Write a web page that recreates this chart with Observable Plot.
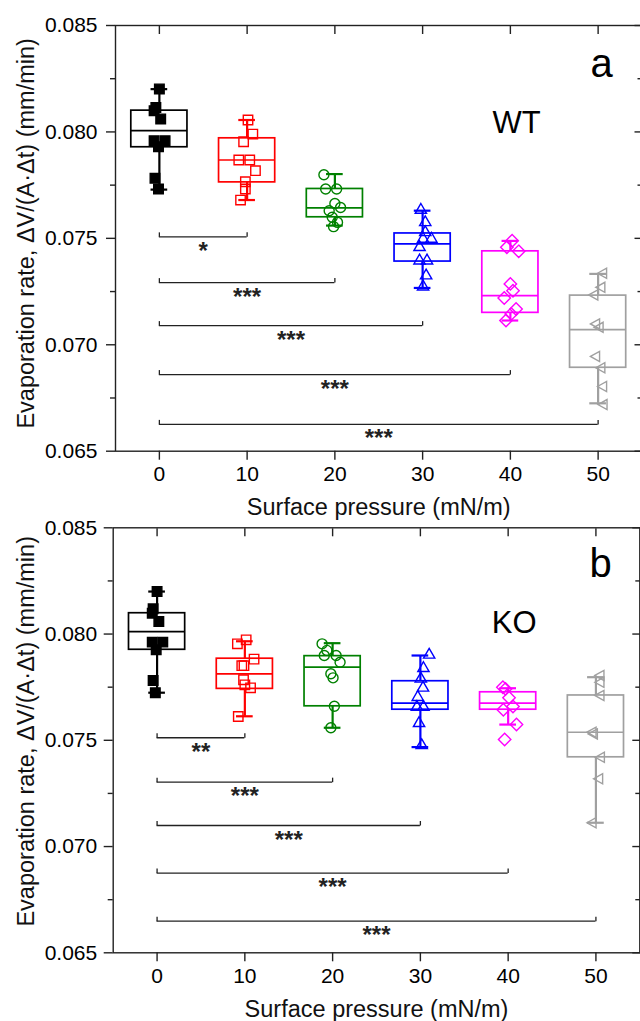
<!DOCTYPE html>
<html><head><meta charset="utf-8">
<script src="https://cdn.jsdelivr.net/npm/d3@7"></script>
<script src="https://cdn.jsdelivr.net/npm/@observablehq/plot@0.6"></script>
<style>
html,body{margin:0;padding:0;background:#fff;}
#chart svg{display:block;overflow:visible;}
</style></head>
<body><div id="chart"></div>
<script>
// ---- categories ----
const pressures = [0, 10, 20, 30, 40, 50];
const colors = ["#000000", "#ff0000", "#008000", "#0000ff", "#ff00ff", "#a0a0a0"];
const yMajor = [0.065, 0.070, 0.075, 0.080, 0.085];
const yMinor = [0.0675, 0.0725, 0.0775, 0.0825];
const xTicks = [0, 10, 20, 30, 40, 50];
const xTitle = "Surface pressure (mN/m)";
const yTitle = "Evaporation rate, \u0394V/(A\u00B7\u0394t) (mm/min)";

// ---- WT box statistics ----
const wtMin    = [0.07729, 0.07680, 0.07560, 0.07267, 0.07114, 0.06725];
const wtQ1     = [0.07928, 0.07763, 0.07599, 0.07391, 0.07150, 0.06892];
const wtMedian = [0.08006, 0.07868, 0.07643, 0.07474, 0.07231, 0.07071];
const wtQ3     = [0.08100, 0.07970, 0.07732, 0.07523, 0.07439, 0.07231];
const wtMax    = [0.08201, 0.08056, 0.07802, 0.07630, 0.07488, 0.07333];

// ---- KO box statistics ----
const koMin    = [0.07724, 0.07613, 0.07559, 0.07468, 0.07574, 0.07112];
const koQ1     = [0.07926, 0.07742, 0.07660, 0.07644, 0.07644, 0.07420];
const koMedian = [0.08011, 0.07813, 0.07844, 0.07675, 0.07675, 0.07538];
const koQ3     = [0.08098, 0.07884, 0.07896, 0.07778, 0.07726, 0.07711];
const koMax    = [0.08200, 0.07966, 0.07957, 0.07899, 0.07745, 0.07797];

// ---- WT individual measurements (per pressure) ----
const wtPoints = [
  [0.08202, 0.08115, 0.08100, 0.08061, 0.07959, 0.07959, 0.07930, 0.07782, 0.07732],
  [0.08056, 0.07990, 0.07954, 0.07868, 0.07868, 0.07818, 0.07766, 0.07732, 0.07680],
  [0.07799, 0.07732, 0.07732, 0.07664, 0.07645, 0.07630, 0.07599, 0.07575, 0.07555],
  [0.07633, 0.07575, 0.07528, 0.07497, 0.07497, 0.07458, 0.07395, 0.07395, 0.07325, 0.07273],
  [0.07489, 0.07458, 0.07439, 0.07286, 0.07254, 0.07220, 0.07168, 0.07145, 0.07114],
  [0.07336, 0.07270, 0.07234, 0.07098, 0.07082, 0.06945, 0.06892, 0.06804, 0.06719]
];
const wtJitter = [
  [0, -0.4, -0.6, 0.15, -0.6, 0.65, -0.1, -0.5, -0.1],
  [0.1, 0.65, -0.4, -0.95, 0.3, 0.95, -0.2, -0.2, -0.75],
  [-1.25, -1.05, 0.2, 0, 0.65, -0.65, -0.3, 0.3, -0.15],
  [-0.2, 0.3, 0.3, 0.05, 1.0, -0.35, -0.35, 0.5, 0.4, 0.05],
  [0.2, -0.4, 0.95, 0, 0.3, -0.7, 0.65, 0.1, -0.5],
  [0.5, 0.3, -0.5, -0.3, 0.1, -0.3, 0.3, 0.5, 0.55]
];

// ---- KO individual measurements (per pressure) ----
const koPoints = [
  [0.08200, 0.08119, 0.08098, 0.08059, 0.07962, 0.07962, 0.07926, 0.07781, 0.07724],
  [0.07954, 0.07973, 0.07882, 0.07851, 0.07851, 0.07785, 0.07761, 0.07747, 0.07612],
  [0.07954, 0.07923, 0.07899, 0.07899, 0.07867, 0.07813, 0.07794, 0.07660, 0.07559],
  [0.07902, 0.07839, 0.07789, 0.07747, 0.07703, 0.07656, 0.07656, 0.07580, 0.07476],
  [0.07750, 0.07742, 0.07700, 0.07659, 0.07644, 0.07574, 0.07504],
  [0.07805, 0.07773, 0.07711, 0.07538, 0.07530, 0.07420, 0.07319, 0.07112]
];
const koJitter = [
  [0, -0.45, -0.55, 0.2, -0.55, 0.65, -0.1, -0.45, -0.2],
  [-0.85, 0.15, 1.05, -0.35, -0.1, -0.15, 0, 0.65, -0.75],
  [-1.2, -0.65, -0.95, 0.4, 0.85, -0.2, 0.05, 0.2, -0.2],
  [1.0, 0.35, 0.05, 0.3, -0.3, -0.4, 0.35, -0.15, 0.15],
  [-0.6, -0.3, 0.1, 0.55, -0.55, 0.95, -0.4],
  [0.45, 0.45, 0.45, -0.45, -0.3, 0.5, 0.3, -0.45]
];

// ---- significance brackets (0 vs each pressure) ----
const bracketTo = [10, 20, 30, 40, 50];
const wtBracketY = [0.07507, 0.07292, 0.07090, 0.06860, 0.06626];
const koBracketY = [0.07512, 0.07303, 0.07099, 0.06875, 0.06649];
const wtStars = ["*", "***", "***", "***", "***"];
const koStars = ["**", "***", "***", "***", "***"];

// ---- styling ----
const FONT = "'Liberation Sans', Arial, Helvetica, sans-serif";
const INK = "#222";
const HALF = 3.2;   // box half-width in x units
const CAP = 0.95;   // whisker cap half-width in x units

const leftTri = {draw(ctx, size) {
  const r = Math.sqrt(size / Math.PI);
  ctx.moveTo(-r * 1.05, 0); ctx.lineTo(r * 0.85, -r * 1.05); ctx.lineTo(r * 0.85, r * 1.05); ctx.closePath();
}};
const tickUp = {draw(ctx) { ctx.moveTo(0, 0); ctx.lineTo(0, -4.5); }};
const symbols = ["square", "square2", "circle", "triangle2", "diamond2", leftTri];
const symR = [5.4, 6, 5, 5.4, 5.6, 4.8];

function panel(cfg) {
  const boxes = pressures.map((p, i) => ({p, lo: cfg.min[i], q1: cfg.q1[i], med: cfg.med[i], q3: cfg.q3[i], hi: cfg.max[i], c: colors[i]}));
  const brackets = bracketTo.map((t, i) => ({x1: 0, x2: t, y: cfg.brY[i], s: cfg.stars[i]}));
  const ends = brackets.flatMap(d => [{x: d.x1, y: d.y}, {x: d.x2, y: d.y}]);
  const marks = [
    Plot.frame({stroke: INK, strokeWidth: 1.4}),
    Plot.axisY({anchor: "left", ticks: yMajor, tickFormat: d3.format(".3f"), tickSize: 9, tickPadding: cfg.yPad, fontSize: 21, label: null, stroke: INK, strokeWidth: 1.4}),
    Plot.axisY({anchor: "left", ticks: yMinor, tickSize: 5, fill: "none", label: null, stroke: INK, strokeWidth: 1.4}),
    Plot.axisY({anchor: "right", ticks: yMajor, tickSize: -8, fill: "none", label: null, stroke: INK, strokeWidth: 1.4}),
    Plot.axisY({anchor: "right", ticks: yMinor, tickSize: -5, fill: "none", label: null, stroke: INK, strokeWidth: 1.4}),
    Plot.axisX({anchor: "bottom", ticks: xTicks, tickSize: 9, tickPadding: 6, fontSize: 21, label: null, stroke: INK, strokeWidth: 1.4}),
    Plot.axisX({anchor: "top", ticks: xTicks, tickSize: -8, fill: "none", label: null, stroke: INK, strokeWidth: 1.4}),
    // brackets
    Plot.ruleY(brackets, {y: "y", x1: "x1", x2: "x2", stroke: INK, strokeWidth: 1.3}),
    Plot.dot(ends, {x: "x", y: "y", symbol: tickUp, r: 3, stroke: INK, fill: "none", strokeWidth: 1.3}),
    Plot.text(brackets, {x: d => (d.x1 + d.x2) / 2, y: "y", text: "s", fontSize: 24, fontWeight: "bold", lineAnchor: "bottom", dy: 22, fill: INK}),
    // boxes
    Plot.ruleX(boxes, {x: "p", y1: "lo", y2: "q1", stroke: "c", strokeWidth: 2.2}),
    Plot.ruleX(boxes, {x: "p", y1: "q3", y2: "hi", stroke: "c", strokeWidth: 2.2}),
    Plot.ruleY(boxes, {y: "lo", x1: d => d.p - CAP, x2: d => d.p + CAP, stroke: "c", strokeWidth: 2.2}),
    Plot.ruleY(boxes, {y: "hi", x1: d => d.p - CAP, x2: d => d.p + CAP, stroke: "c", strokeWidth: 2.2}),
    Plot.rect(boxes, {x1: d => d.p - HALF, x2: d => d.p + HALF, y1: "q1", y2: "q3", stroke: "c", fill: "none", strokeWidth: 1.7}),
    Plot.ruleY(boxes, {y: "med", x1: d => d.p - HALF, x2: d => d.p + HALF, stroke: "c", strokeWidth: 1.7}),
  ];
  pressures.forEach((p, i) => {
    const pts = cfg.pts[i].map((v, j) => ({x: p + cfg.jit[i][j], y: v}));
    marks.push(Plot.dot(pts, {x: "x", y: "y", symbol: symbols[i], r: symR[i],
      stroke: colors[i], fill: i === 0 ? colors[i] : "none", strokeWidth: 1.4}));
  });
  marks.push(
    Plot.text([xTitle], {text: d => d, frameAnchor: "bottom", dy: 64, lineAnchor: "bottom", textAnchor: "middle", fontSize: 23.5, fill: "#111"}),
    Plot.text([yTitle], {text: d => d, frameAnchor: "left", rotate: -90, dx: cfg.yTitleDx, dy: cfg.yTitleDy, lineAnchor: "bottom", textAnchor: "middle", fontSize: 23.5, fill: "#111"}),
    Plot.text([cfg.letter], {text: d => d, frameAnchor: "top-right", dx: cfg.letterDx, dy: cfg.letterDy, lineAnchor: "bottom", textAnchor: "middle", fontSize: 40, fill: "#000"}),
    Plot.text([cfg.tag], {text: d => d, frameAnchor: "top-right", dx: cfg.tagDx, dy: cfg.tagDy, lineAnchor: "bottom", textAnchor: "middle", fontSize: 31, fill: "#000"})
  );
  return Plot.plot({
    width: 640, height: cfg.height,
    marginTop: cfg.mt, marginBottom: cfg.mb, marginLeft: cfg.ml, marginRight: cfg.mr,
    x: {domain: [-5, 55]},
    y: {domain: [0.065, 0.085]},
    color: {type: "identity"},
    style: {fontFamily: FONT, background: "transparent", overflow: "visible", color: "#000"},
    marks
  });
}

const chart = document.getElementById("chart");
chart.append(panel({
  min: wtMin, q1: wtQ1, med: wtMedian, q3: wtQ3, max: wtMax,
  pts: wtPoints, jit: wtJitter, brY: wtBracketY, stars: wtStars,
  letter: "a", tag: "WT",
  height: 520, mt: 25, mb: 69.3, ml: 115, mr: -1.5,
  yPad: 9, yTitleDx: -82, yTitleDy: -5,
  letterDx: -40.5, letterDy: 51.7, tagDx: -125.5, tagDy: 107.3
}));
chart.append(panel({
  min: koMin, q1: koQ1, med: koMedian, q3: koQ3, max: koMax,
  pts: koPoints, jit: koJitter, brY: koBracketY, stars: koStars,
  letter: "b", tag: "KO",
  height: 501, mt: 7.3, mb: 68.7, ml: 112.7, mr: 0.7,
  yPad: 7, yTitleDx: -79.7, yTitleDy: -9,
  letterDx: -39.3, letterDy: 48.7, tagDx: -125.6, tagDy: 105.4
}));
</script>
</body></html>
